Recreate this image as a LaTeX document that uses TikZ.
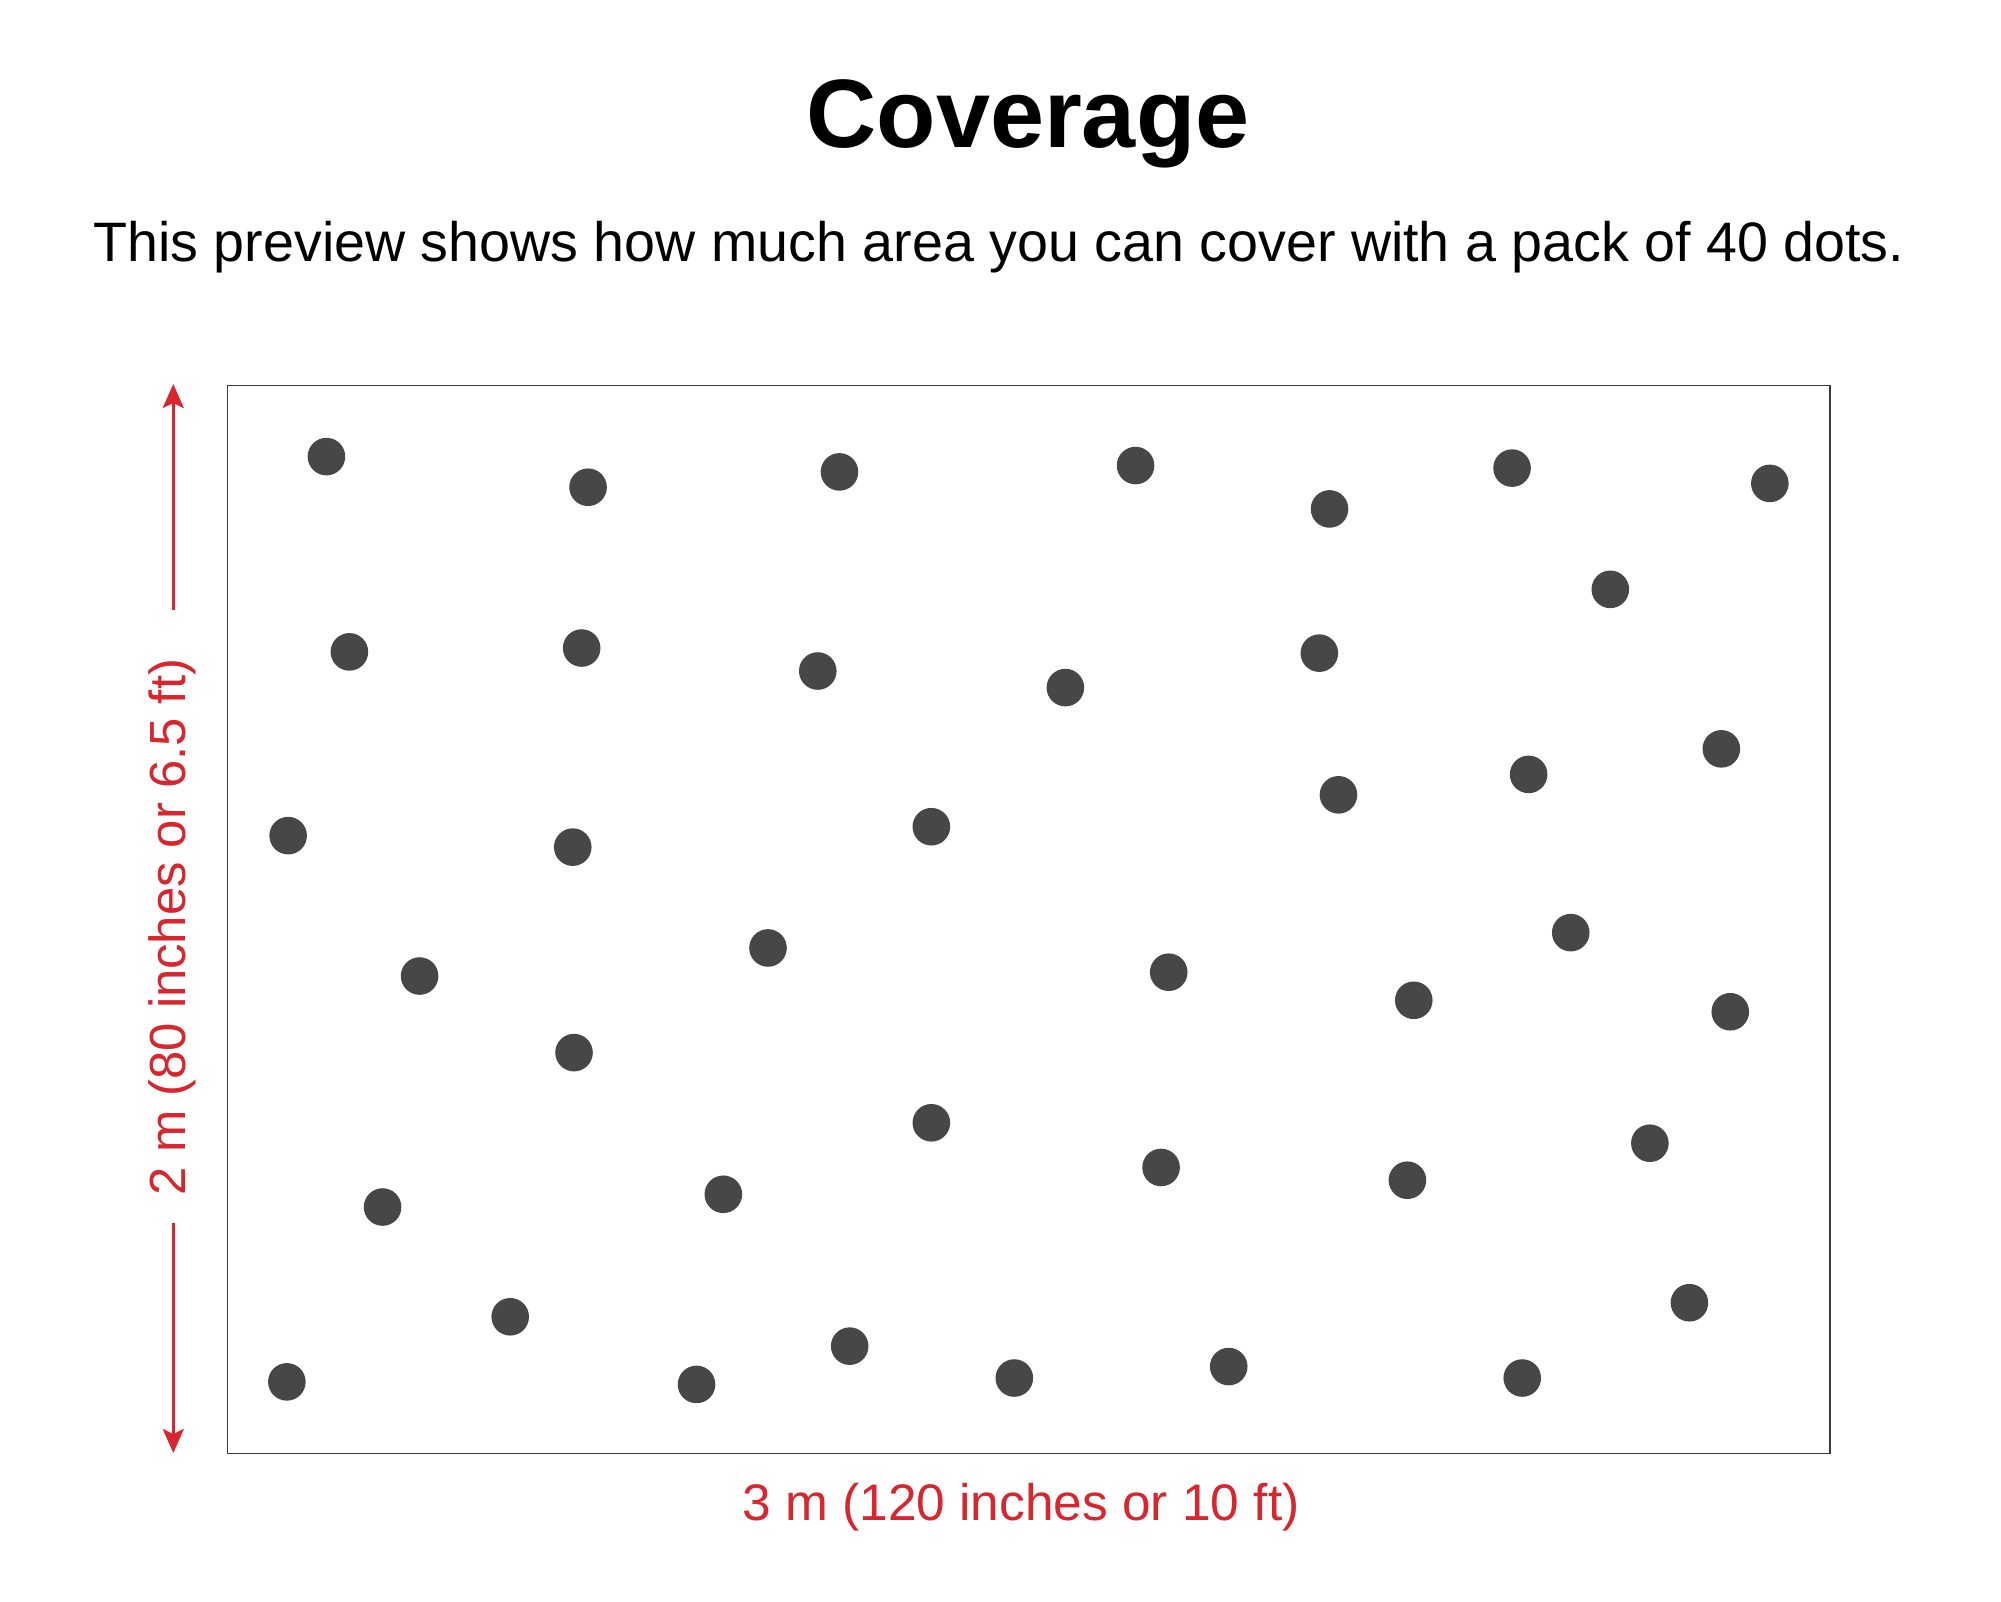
\documentclass[tikz,border=0pt]{standalone}
\usepackage{fontspec}
\setmainfont{Liberation Sans}
\usetikzlibrary{arrows.meta}
\definecolor{dimred}{HTML}{D7262E}
\definecolor{dotgray}{HTML}{474747}
\definecolor{framegray}{HTML}{3A3A3A}
\tikzset{
  dot/.style={circle, fill=dotgray, draw=none, inner sep=0pt, minimum size=18.8pt},
  dimline/.style={draw=dimred, line width=1.5pt, -{Stealth[length=12pt,width=10.5pt,inset=2.5pt]}},
  dimtext/.style={text=dimred, inner sep=0pt},
  frame/.style={draw=framegray, line width=0.75pt}
}
\begin{document}
\begin{tikzpicture}[x=0.5pt, y=-0.5pt]
\useasboundingbox (0,0) rectangle (2001,1601);
\fill[white] (0,0) rectangle (2001,1601);
% title and subtitle
\node[anchor=base, inner sep=0pt, font=\bfseries\fontsize{48.6pt}{49pt}\selectfont] (title) at (1028,147) {Coverage};
\node[anchor=base, inner sep=0pt, font=\fontsize{27.8pt}{28pt}\selectfont] (subtitle) at (999,261) {This preview shows how much area you can cover with a pack of 40 dots.};
% frame
\node[frame, anchor=north west, inner sep=0pt, minimum width=801.25pt, minimum height=534pt] (area) at (226.5,384.5) {};
% dots
\begin{scope}[shift={(1,1)}, scale=1.2762]
\foreach \px/\py [count=\i] in {
 255/357, 460/381, 657/369, 889/364, 1041/398, 1184/366, 1386/378, 1261/461,
 273/510, 455/507, 640/525, 834/538, 1033/511, 1348/586, 1197/606, 1048/622,
 225/654, 448/663, 729/647, 1230/730, 328/764, 601/742, 915/761, 1107/783,
 1355/792, 449/824, 729/879, 909/914, 1102/924, 1292/895, 299/945, 566/935,
 1323/1020, 399/1031, 665/1054, 224/1082, 545/1084, 794/1079, 962/1070, 1192/1079}
  \node[dot] (d\i) at (\px,\py) {};
\end{scope}
% vertical dimension
\node[dimtext, rotate=90, anchor=base, font=\fontsize{25.4pt}{25pt}\selectfont] (hlabel) at (185,927) {2 m (80 inches or 6.5 ft)};
\coordinate (htop) at (173.3,384);
\coordinate (hbot) at (173.3,1453);
\coordinate (hgapt) at (173.3,610);
\coordinate (hgapb) at (173.3,1223);
\draw[dimline] (hgapt) -- (htop);
\draw[dimline] (hgapb) -- (hbot);
% horizontal dimension label
\node[dimtext, anchor=base, font=\fontsize{25.7pt}{26pt}\selectfont] (wlabel) at (1021,1520) {3 m (120 inches or 10 ft)};
\end{tikzpicture}
\end{document}
